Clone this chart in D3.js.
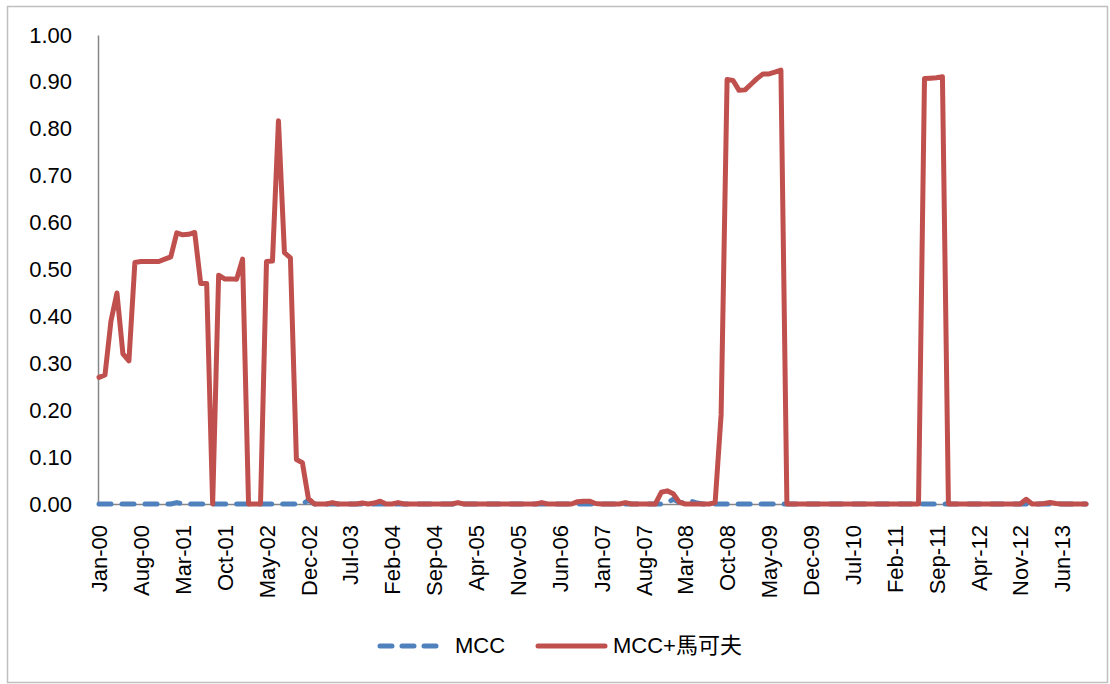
<!DOCTYPE html>
<html>
<head>
<meta charset="utf-8">
<script src="https://cdn.jsdelivr.net/npm/d3@7"></script>
<style>
  html, body { margin: 0; padding: 0; background: #fff; }
  svg { display: block; }
  text { font-family: "Liberation Sans", Arial, "Noto Sans CJK TC", sans-serif; fill: #000; }
</style>
</head>
<body>
<svg id="chart" width="1110" height="684"></svg>
<script>
// ---- data ----
const startMonth = new Date(2000, 0, 1);
const monthCount = 166; // Jan-00 .. Oct-13
const fmt = d3.timeFormat("%b-%y");
const categories = d3.range(monthCount).map(i => fmt(d3.timeMonth.offset(startMonth, i)));

const tickLabels = ["Jan-00","Aug-00","Mar-01","Oct-01","May-02","Dec-02","Jul-03","Feb-04","Sep-04","Apr-05","Nov-05","Jun-06","Jan-07","Aug-07","Mar-08","Oct-08","May-09","Dec-09","Jul-10","Feb-11","Sep-11","Apr-12","Nov-12","Jun-13"];
const yTicks = [0,0.1,0.2,0.3,0.4,0.5,0.6,0.7,0.8,0.9,1.0];

const seriesNames = ["MCC", "MCC+馬可夫"];

const mccValues = [
  0,0,0,0,0,0,0,0,0,0, 0,0,0,0.003,0,0,0,0,0,0,
  0,0,0,0,0,0,0,0,0,0, 0,0,0,0,0,0.008,0,0,0,0,
  0,0,0,0,0,0,0,0,0,0, 0,0,0,0,0,0,0,0,0,0,
  0,0,0,0,0,0,0,0,0,0, 0,0,0,0,0,0,0,0,0,0,
  0,0,0,0,0,0,0,0,0,0, 0,0,0,0,0,0.003,0.01,0.004,0.002,0.006,
  0.002,0,0,0,0,0,0,0,0,0, 0,0,0,0,0,0,0,0,0,0,
  0,0,0,0,0,0,0,0,0,0, 0,0,0,0,0,0,0,0,0,0,
  0,0,0,0,0,0,0,0,0,0, 0,0,0,0,0,0,0,0,0,0,
  0,0,0,0,0,0
];

const mccMarkovValues = [
  0.27,0.275,0.39,0.45,0.32,0.305,0.515,0.517,0.517,0.517,
  0.517,0.522,0.527,0.578,0.574,0.575,0.579,0.47,0.47,0,
  0.488,0.48,0.48,0.479,0.522,0,0,0,0.517,0.518,
  0.817,0.536,0.525,0.095,0.088,0.012,0,0,0,0.003,
  0,0,0,0,0.002,0,0.002,0.006,0,0,
  0.003,0,0,0,0,0,0,0,0,0,
  0.003,0,0,0,0,0,0,0,0,0,
  0,0,0,0,0.003,0,0,0,0,0,
  0.005,0.006,0.006,0.001,0,0,0,0,0.003,0,
  0,0,0,0,0.025,0.028,0.022,0.004,0,0,
  0,0,0,0.003,0.19,0.905,0.903,0.882,0.883,0.895,
  0.907,0.917,0.917,0.921,0.925,0,0,0,0,0,
  0,0,0,0,0,0,0,0,0,0,
  0,0,0,0,0,0,0,0,0.907,0.908,
  0.909,0.911,0,0,0,0,0,0,0,0,
  0,0,0,0,0,0.01,0,0,0.001,0.003,
  0.001,0,0,0,0,0
];

// ---- layout ----
const svg = d3.select("#chart");
const colors = { mcc: "#4F81BD", markov: "#C0504D", axis: "#868686" };

svg.append("rect")
  .attr("x", 7.5).attr("y", 6.5).attr("width", 1100).attr("height", 676)
  .attr("fill", "#fff").attr("stroke", "#BFBFBF").attr("stroke-width", 1.5);

const x = d3.scalePoint().domain(categories).range([99, 1086]);
const y = d3.scaleLinear().domain([0, 1]).range([504, 35]);

// y axis
const yAxis = svg.append("g").attr("transform", "translate(98,0)")
  .call(d3.axisLeft(y).tickValues(yTicks).tickSize(0).tickPadding(26).tickFormat(d3.format(".2f")));
yAxis.select(".domain").attr("stroke", colors.axis).attr("stroke-width", 1.5);
yAxis.selectAll("text").attr("font-size", 22).attr("fill", "#000")
  .style("font-family", '"Liberation Sans", Arial, sans-serif');

// x axis
const xAxis = svg.append("g").attr("transform", "translate(0,504)")
  .call(d3.axisBottom(x).tickValues(tickLabels).tickSize(0).tickPadding(0));
xAxis.select(".domain").attr("stroke", colors.axis).attr("stroke-width", 1.5)
  .attr("d", "M98,0.5H1086");
xAxis.selectAll(".tick text")
  .attr("font-size", 22).attr("fill", "#000")
  .style("font-family", '"Liberation Sans", Arial, sans-serif')
  .attr("text-anchor", "end")
  .attr("y", 0).attr("dy", "0.35em")
  .attr("transform", "translate(0,21) rotate(-90)");

// lines
const line = d3.line().x((d, i) => x(categories[i])).y(d => y(d));

svg.append("path").datum(mccValues)
  .attr("d", line).attr("fill", "none")
  .attr("stroke", colors.mcc).attr("stroke-width", 5)
  .attr("stroke-dasharray", "12,11").attr("stroke-linecap", "round")
  .attr("stroke-linejoin", "round");

svg.append("path").datum(mccMarkovValues)
  .attr("d", line).attr("fill", "none")
  .attr("stroke", colors.markov).attr("stroke-width", 5)
  .attr("stroke-linecap", "round").attr("stroke-linejoin", "round");

// legend
const lg = svg.append("g");
lg.append("line").attr("x1", 380).attr("x2", 436).attr("y1", 646).attr("y2", 646)
  .attr("stroke", colors.mcc).attr("stroke-width", 5)
  .attr("stroke-dasharray", "12,10").attr("stroke-linecap", "round");
lg.append("text").attr("x", 455).attr("y", 653).attr("font-size", 22).text(seriesNames[0]);
lg.append("line").attr("x1", 538).attr("x2", 605).attr("y1", 646).attr("y2", 646)
  .attr("stroke", colors.markov).attr("stroke-width", 5).attr("stroke-linecap", "round");
lg.append("text").attr("x", 613).attr("y", 653).attr("font-size", 22).text(seriesNames[1]);
</script>
</body>
</html>
